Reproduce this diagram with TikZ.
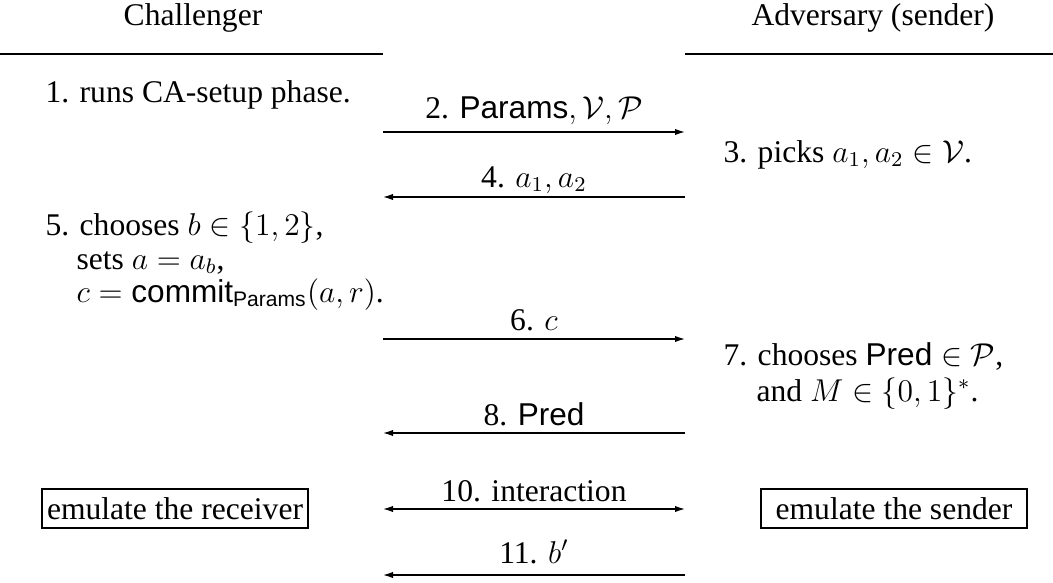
\documentclass[tikz,border=0pt]{standalone}
\usepackage{amsmath}
\usepackage[no-math]{fontspec}
\setmainfont{Liberation Serif}
\setsansfont{Liberation Sans}
\usetikzlibrary{arrows.meta}
\tikzset{
  txt/.style={anchor=base west, inner sep=0pt},
  lbl/.style={anchor=base, inner sep=0pt},
  head/.style={anchor=base, inner sep=0pt},
  rulebar/.style={line width=1pt},
  msg/.style={line width=0.5pt, -{Latex[length=3.8pt,width=2.4pt]}},
  msgboth/.style={line width=0.5pt, {Latex[length=3.8pt,width=2.4pt]}-{Latex[length=3.8pt,width=2.4pt]}},
  emubox/.style={draw, line width=0.5pt, inner sep=0pt, minimum width=101pt, minimum height=14.8pt}
}
\begin{document}
\begin{tikzpicture}[x=0.38pt, y=-0.38pt, font=\fontsize{12}{14}\selectfont]
\useasboundingbox (0,0) rectangle (1053,582);
% headings
\node[head] (hC) at (193,25) {Challenger};
\node[head] (hA) at (873,25) {Adversary (sender)};
\coordinate (rL1) at (0,54); \coordinate (rL2) at (383,54);
\coordinate (rR1) at (685,54); \coordinate (rR2) at (1053,54);
\draw[rulebar] (rL1) -- (rL2);
\draw[rulebar] (rR1) -- (rR2);
% step texts
\node[txt] (s1) at (45,102) {1. runs CA-setup phase.};
\node[txt] (s3) at (723,162) {3. picks $a_1, a_2 \in \mathcal{V}$.};
\node[txt] (s5a) at (45,235) {5. chooses $b \in \{1,2\}$,};
\node[txt] (s5b) at (76,269) {sets $a = a_b$,};
\node[txt] (s5c) at (76,302) {$c = \textsf{commit}_{\textsf{Params}}(a,r)$.};
\node[txt] (s7a) at (723,365) {7. chooses $\textsf{Pred} \in \mathcal{P}$,};
\node[txt] (s7b) at (756,401) {and $M \in \{0,1\}^*$.};
% arrow end points
\foreach \n/\y in {2/132,4/197,6/339,8/433,10/509,11/575}{
  \coordinate (L\n) at (383,\y);
  \coordinate (R\n) at (685,\y);
}
\draw[msg] (L2) -- (R2);
\node[lbl] (m2) at (534,118) {2. $\textsf{Params}, \mathcal{V}, \mathcal{P}$};
\draw[msg] (R4) -- (L4);
\node[lbl] (m4) at (534,187) {4. $a_1, a_2$};
\draw[msg] (L6) -- (R6);
\node[lbl] (m6) at (534,330) {6. $c$};
\draw[msg] (R8) -- (L8);
\node[lbl] (m8) at (534,425) {8. \textsf{Pred}};
\draw[msgboth] (L10) -- (R10);
\node[lbl] (m10) at (534,501) {10. interaction};
\draw[msg] (R11) -- (L11);
\node[lbl] (m11) at (534,563) {11. $b'$};
% emulation boxes
\node[emubox] (er) at (175,508.5) {emulate the receiver};
\node[emubox] (es) at (894,508.5) {emulate the sender};
\end{tikzpicture}
\end{document}
